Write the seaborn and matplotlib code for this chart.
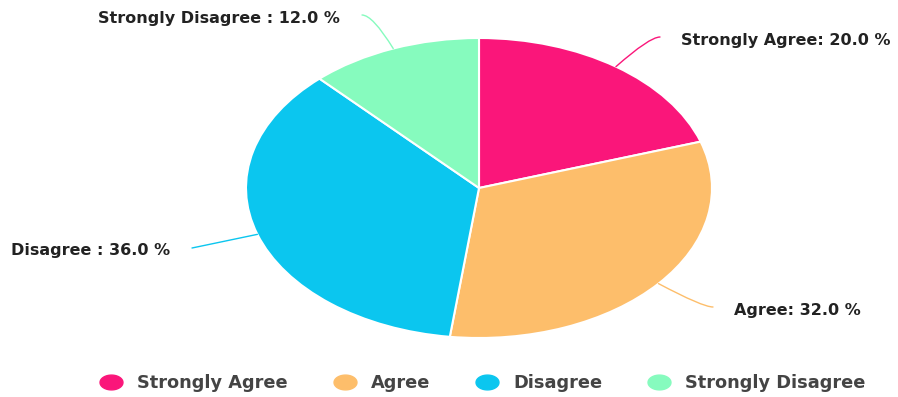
import numpy as np
import matplotlib
matplotlib.use("Agg")
import matplotlib.pyplot as plt
from matplotlib.lines import Line2D
from matplotlib.path import Path
import seaborn as sns

categories = ["Strongly Agree", "Agree", "Disagree", "Strongly Disagree"]
values = [20.0, 32.0, 36.0, 12.0]
label_texts = ["Strongly Agree: 20.0 %", "Agree: 32.0 %", "Disagree : 36.0 %", "Strongly Disagree : 12.0 %"]
colors = ["#FA167A", "#FDBE6B", "#0BC6EF", "#86FBBE"]

sns.set_theme(style="white")
plt.rcParams["font.family"] = ["DejaVu Sans"]

W, H = 898, 397
fig = plt.figure(figsize=(W / 100, H / 100), dpi=100)
fig.patch.set_facecolor("white")

# pie area in pixels (left, top, width, height)
px_l, px_t, px_w, px_h = 246, 38, 466, 300
ax = fig.add_axes([px_l / W, 1 - (px_t + px_h) / H, px_w / W, px_h / H])
wedges, _ = ax.pie(values, colors=colors, startangle=90, counterclock=False,
                   wedgeprops=dict(edgecolor="white", linewidth=1.5))
ax.set_aspect("auto")
ax.set_xlim(-1, 1)
ax.set_ylim(-1, 1)
ax.axis("off")

# overlay axes in pixel coordinates
ov = fig.add_axes([0, 0, 1, 1])
ov.set_xlim(0, W)
ov.set_ylim(H, 0)
ov.axis("off")
ov.patch.set_alpha(0)

cx, cy = px_l + px_w / 2, px_t + px_h / 2
rx, ry = px_w / 2, px_h / 2

# label layout: end of connector (pixels) and text side
label_layout = [
    ((660, 37), "left"),
    ((713, 307), "left"),
    ((192, 248), "right"),
    ((362, 15), "right"),
]

for w, txt, col, (end, side) in zip(wedges, label_texts, colors, label_layout):
    mid = np.deg2rad((w.theta1 + w.theta2) / 2)
    ax_pt = (cx + rx * np.cos(mid), cy - ry * np.sin(mid))
    angB = np.degrees(np.arctan2(ry * np.sin(mid), rx * np.cos(mid)))
    ov.annotate("", xy=ax_pt, xytext=end,
                arrowprops=dict(arrowstyle="-", color=col, lw=1.0,
                                shrinkA=0, shrinkB=0,
                                connectionstyle=f"angle3,angleA=0,angleB={angB:.1f}"))
    if side == "left":
        ov.text(end[0] + 21, end[1] + 3, txt, ha="left", va="center",
                fontsize=11.5, fontweight="bold", color="#222222")
    else:
        ov.text(end[0] - 22, end[1] + 3, txt, ha="right", va="center",
                fontsize=11.5, fontweight="bold", color="#222222")

# elliptical legend marker (horizontally stretched dot)
t = np.linspace(0, 2 * np.pi, 60)
ell = Path(np.column_stack([1.55 * np.cos(t), np.sin(t)]), closed=True)
handles = [Line2D([], [], linestyle="none", marker=ell, markersize=16.5,
                  markerfacecolor=c, markeredgecolor=c) for c in colors]
fig.legend(handles, categories, loc="center", bbox_to_anchor=(0.537, 1 - 383 / H),
           ncol=4, frameon=False, handlelength=1.4, handletextpad=0.76,
           columnspacing=2.5, prop=dict(size=12.8, weight="bold"),
           labelcolor="#444444")

fig.savefig("out.png", dpi=100, facecolor="white")
